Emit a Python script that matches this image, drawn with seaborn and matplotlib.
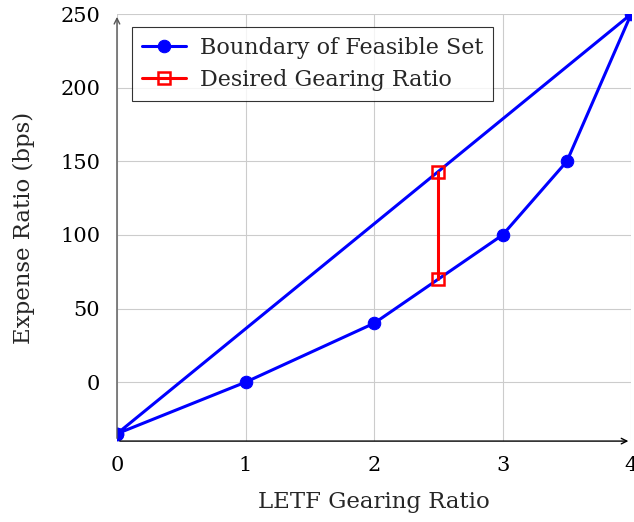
import seaborn as sns
import matplotlib.pyplot as plt
import pandas as pd

# boundary of the feasible set (closed polygon)
gearing = [0, 1, 2, 3, 3.5, 4, 0]
expense = [-35, 0, 40, 100, 150, 250, -35]

# desired gearing ratio segment
desired_x = [2.5, 2.5]
desired_y = [70, 143]

xticks = [0, 1, 2, 3, 4]
yticks = [0, 50, 100, 150, 200, 250]

sns.set_style("whitegrid", {"grid.color": "#cccccc"})
plt.rcParams['font.family'] = ['DejaVu Serif']
plt.rcParams['mathtext.fontset'] = 'dejavuserif'

fig = plt.figure(figsize=(6.34, 5.22), dpi=100)
ax = fig.add_axes([0.1845, 0.155, 0.811, 0.818])

boundary = pd.DataFrame({"x": gearing, "y": expense})
desired = pd.DataFrame({"x": desired_x, "y": desired_y})

sns.lineplot(data=boundary, x="x", y="y", sort=False, estimator=None, ax=ax,
             color="blue", lw=2.2, marker="o", markersize=9, mec="blue",
             label="Boundary of Feasible Set")
sns.lineplot(data=desired, x="x", y="y", sort=False, estimator=None, ax=ax,
             color="red", lw=2.2, marker="s", markersize=8, mfc="none",
             mec="red", mew=1.8, label="Desired Gearing Ratio")

ax.set_xlim(0, 4)
ax.set_ylim(-40, 250)
ax.set_xticks(xticks)
ax.set_yticks(yticks)
ax.tick_params(labelsize=15, length=4, direction="in", colors="black")
ax.tick_params(axis="y", pad=12)
ax.tick_params(axis="x", pad=11)
ax.set_xlabel("LETF Gearing Ratio", fontsize=16.5, labelpad=11)
ax.set_ylabel("Expense Ratio (bps)", fontsize=16.5, labelpad=18)

for s in ["top", "right", "left", "bottom"]:
    ax.spines[s].set_visible(False)
ax.annotate("", xy=(1.0, 0), xytext=(0, 0), xycoords="axes fraction",
            arrowprops=dict(arrowstyle="->", color="black", lw=1))
ax.annotate("", xy=(0, 1.0), xytext=(0, 0), xycoords="axes fraction",
            arrowprops=dict(arrowstyle="->", color="#555555", lw=1))

leg = ax.legend(loc="upper left", bbox_to_anchor=(0.029, 0.97), fontsize=16,
                frameon=True, fancybox=False, edgecolor="black",
                borderaxespad=0, handlelength=2.0, borderpad=0.45,
                labelspacing=0.45, handletextpad=0.6)
leg.get_frame().set_linewidth(0.8)

fig.savefig("out.png", dpi=100)
